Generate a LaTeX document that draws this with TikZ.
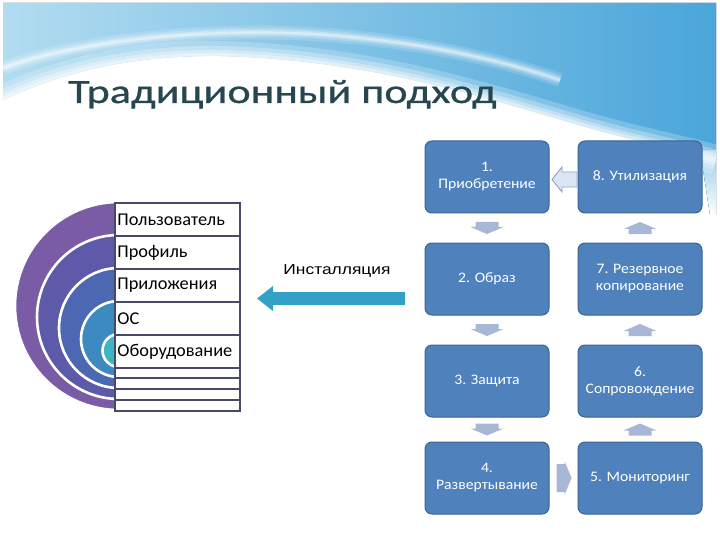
\documentclass[tikz,border=0pt]{standalone}
\usepackage{fontspec}
\setmainfont{Carlito}
\newfontfamily\titlefont[FakeStretch=1.3,FakeBold=0.7]{Carlito}
\newfontfamily\boxfont[FakeStretch=1.08]{Carlito}
\newfontfamily\rowfont[FakeStretch=1.02]{Carlito}
\newfontfamily\labfont[FakeStretch=1.2]{Liberation Sans}
\usetikzlibrary{arrows.meta,calc}
\definecolor{bgL}{RGB}{178,220,240}
\definecolor{bgM}{RGB}{125,195,232}
\definecolor{bgR}{RGB}{74,166,218}
\definecolor{titlecol}{RGB}{38,70,80}
\definecolor{boxblue}{RGB}{79,129,189}
\definecolor{boxedge}{RGB}{58,100,150}
\definecolor{arrfill}{RGB}{168,183,214}
\definecolor{outfill}{RGB}{220,230,243}
\definecolor{outedge}{RGB}{140,163,203}
\definecolor{bigarr}{RGB}{50,160,200}
\definecolor{tabline}{RGB}{72,72,104}
\definecolor{ringA}{RGB}{122,92,166}
\definecolor{ringB}{RGB}{94,90,170}
\definecolor{ringC}{RGB}{76,104,178}
\definecolor{ringD}{RGB}{60,138,192}
\definecolor{ringE}{RGB}{62,180,196}
\tikzset{
  stepbox/.style={rectangle, rounded corners=7pt, fill=boxblue, draw=boxedge, line width=1pt,
    minimum width=124pt, minimum height=72pt, text=white, align=center,
    font=\boxfont\fontsize{14.5}{17}\selectfont, inner sep=2pt},
  rowbox/.style={rectangle, draw=tabline, fill=white, line width=1.8pt, minimum width=125pt,
    text width=120pt, align=left, inner xsep=2.5pt, inner ysep=0pt, anchor=north west,
    font=\rowfont\fontsize{18}{20}\selectfont},
  ring/.style={draw=white, line width=2.6pt},
  pics/downarr/.style={code={\fill[arrfill] (-11.5,-6) -- (11.5,-6) -- (11.5,-1) -- (16.5,-1) -- (0,6) -- (-16.5,-1) -- (-11.5,-1) -- cycle;}},
  pics/uparr/.style={code={\fill[arrfill] (-11.5,6) -- (11.5,6) -- (11.5,1) -- (16.5,1) -- (0,-6) -- (-16.5,1) -- (-11.5,1) -- cycle;}},
  pics/rightarr/.style={code={\fill[arrfill] (-7,-14) -- (1,-14) -- (1,-17) -- (8,0) -- (1,17) -- (1,14) -- (-7,14) -- cycle;}},
  pics/leftarr/.style={code={\filldraw[fill=outfill, draw=outedge, line width=0.9pt] (-11.5,0) -- (-1.5,-12.5) -- (-1.5,-7.5) -- (13.5,-7.5) -- (13.5,7.5) -- (-1.5,7.5) -- (-1.5,12.5) -- cycle;}}
}
\begin{document}
\begin{tikzpicture}[x=1pt,y=-1pt]
\useasboundingbox (0,0) rectangle (720,540);
\fill[white] (0,0) rectangle (720,540);
% background header
\fill[left color=bgL, middle color=bgM, right color=bgR]
  (3,3) -- (716,3) -- (716,160) .. controls (680,150) and (640,142) .. (600,131)
  .. controls (500,103) and (380,60) .. (220,56) .. controls (130,55) and (60,73) .. (3,100) -- cycle;
\fill[top color=bgR!60, bottom color=white] (700,150) -- (716,150) -- (716,215) -- (710,215) -- cycle;
% soften lower edge
\foreach \w/\o in {30/0.22,20/0.28,12/0.32,6/0.4}{
  \draw[white, opacity=\o, line width=\w pt]
    (716,160) .. controls (680,150) and (640,142) .. (600,131)
    .. controls (500,103) and (380,60) .. (220,56) .. controls (130,55) and (60,73) .. (3,100);
}
% light streak
\foreach \w/\o in {14/0.15,9/0.2,5/0.3,2/0.35}{
  \draw[white, opacity=\o, line width=\w pt]
    (3,68) .. controls (80,40) and (220,25) .. (340,36) .. controls (430,44) and (500,60) .. (560,80);
}
% title
\node[anchor=base west, inner sep=0pt, text=titlecol, font=\titlefont\fontsize{34}{40}\selectfont] (title) at (68,103) {Традиционный подход};
% nested circles
\filldraw[fill=ringA, ring] (119,306) circle (104pt);
\filldraw[fill=ringB, ring] (119,317) circle (82pt);
\filldraw[fill=ringC, ring] (119,328) circle (60pt);
\filldraw[fill=ringD, ring] (119,339) circle (38pt);
\filldraw[fill=ringE, ring] (119,350.5) circle (16.5pt);
% table
\node[rowbox, minimum height=33pt] (r1) at (114,202) {Пользователь};
\node[rowbox, minimum height=33pt] (r2) at (114,235) {Профиль};
\node[rowbox, minimum height=33pt] (r3) at (114,268) {Приложения};
\node[rowbox, minimum height=33pt] (r4) at (114,301) {ОС};
\node[rowbox, minimum height=33pt] (r5) at (114,334) {Оборудование};
\node[rowbox, minimum height=10pt] (r6) at (114,367) {};
\node[rowbox, minimum height=11pt] (r7) at (114,377) {};
\node[rowbox, minimum height=11pt] (r8) at (114,388) {};
\node[rowbox, minimum height=11pt] (r9) at (114,399) {};
% steps
\node[stepbox] (b1) at (487,177) {1.\\Приобретение};
\node[stepbox] (b2) at (487,279) {2. Образ};
\node[stepbox] (b3) at (487,381) {3. Защита};
\node[stepbox] (b4) at (487,478) {4.\\Развертывание};
\node[stepbox] (b5) at (640,478) {5. Мониторинг};
\node[stepbox] (b6) at (640,381) {6.\\Сопровождение};
\node[stepbox] (b7) at (640,279) {7. Резервное\\копирование};
\node[stepbox] (b8) at (640,177) {8. Утилизация};
% small arrows
\coordinate (m12) at ($(b1.south)!0.5!(b2.north)$);
\coordinate (m23) at ($(b2.south)!0.5!(b3.north)$);
\coordinate (m34) at ($(b3.south)!0.5!(b4.north)$);
\coordinate (m45) at ($(b4.east)!0.5!(b5.west)$);
\coordinate (m56) at ($(b5.north)!0.5!(b6.south)$);
\coordinate (m67) at ($(b6.north)!0.5!(b7.south)$);
\coordinate (m78) at ($(b7.north)!0.5!(b8.south)$);
\coordinate (m81) at ($(b8.west)!0.5!(b1.east)+(0,2.5)$);
\pic at (m12) {downarr};
\pic at (m23) {downarr};
\pic at (m34) {downarr};
\pic at (m45) {rightarr};
\pic at (m56) {uparr};
\pic at (m67) {uparr};
\pic at (m78) {uparr};
\pic at (m81) {leftarr};
% installation arrow
\coordinate (instS) at (405,298.5);
\coordinate (instE) at (257,298.5);
\draw[bigarr, line width=13pt, -{Triangle[width=24pt,length=16pt]}] (instS) -- (instE);
\node[inner sep=0pt, anchor=base, font=\labfont\fontsize{14.5}{17}\selectfont] (instlbl) at (337,274) {Инсталляция};
\end{tikzpicture}
\end{document}
